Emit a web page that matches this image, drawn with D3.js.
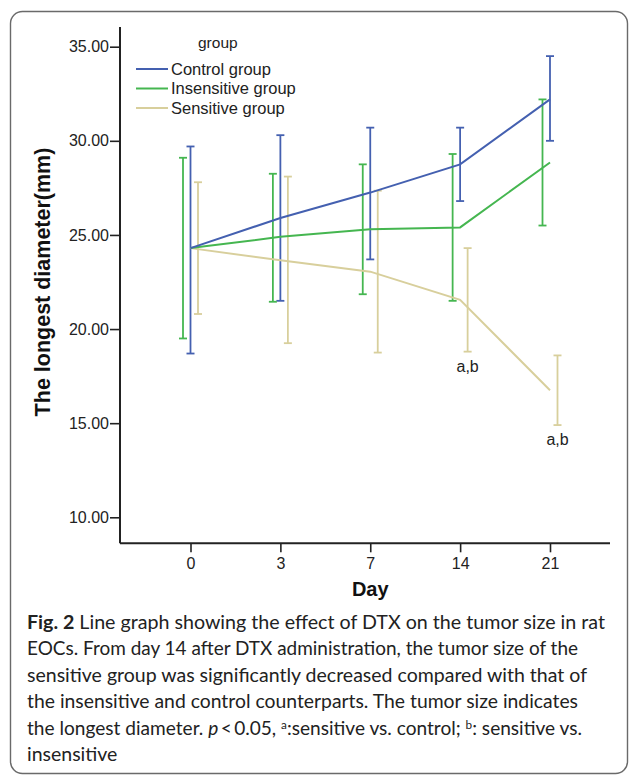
<!DOCTYPE html>
<html>
<head>
<meta charset="utf-8">
<script src="https://cdnjs.cloudflare.com/ajax/libs/d3/7.8.5/d3.min.js"></script>
<style>
  body { margin: 0; background: #fff; }
  svg { display: block; font-family: "Liberation Sans", Arial, sans-serif; }
</style>
</head>
<body>
<div class="figure"></div>
<script>
// values (mean and error bar ends, mm)
var days = ["0", "3", "7", "14", "21"];
var groupNames = ["Control group", "Insensitive group", "Sensitive group"];
var groupColors = ["#4460b0", "#45b650", "#d8cf9c"];

var controlMean = [24.3, 25.9, 27.25, 28.75, 32.2];
var controlLow = [18.7, 21.5, 23.7, 26.8, 30.0];
var controlHigh = [29.7, 30.3, 30.7, 30.7, 34.5];

var insensMean = [24.3, 24.9, 25.3, 25.4, 28.85];
var insensLow = [19.5, 21.45, 21.85, 21.5, 25.5];
var insensHigh = [29.1, 28.25, 28.75, 29.3, 32.2];

var sensMean = [24.3, 23.65, 23.05, 21.55, 16.75];
var sensLow = [20.8, 19.25, 18.75, 18.8, 14.9];
var sensHigh = [27.8, 28.1, 27.35, 24.3, 18.6];

var sigLabels = ["", "", "", "a,b", "a,b"];
var yTicks = [10, 15, 20, 25, 30, 35];

var captionLines = [
  [{t: "Fig. 2", b: true}, {t: "  Line graph showing the effect of DTX on the tumor size in rat"}],
  [{t: "EOCs. From day 14 after DTX administration, the tumor size of the"}],
  [{t: "sensitive group was significantly decreased compared with that of"}],
  [{t: "the insensitive and control counterparts. The tumor size indicates"}],
  [{t: "the longest diameter. "}, {t: "p", i: true}, {t: "\u2009<\u20090.05, "}, {t: "a", sup: true},
   {t: ":sensitive vs. control; "}, {t: "b", sup: true}, {t: ": sensitive vs."}],
  [{t: "insensitive"}]
];
var captionWidths = [578, 551, 560, 551, 555, 0];

var groups = [
  {mean: controlMean, low: controlLow, high: controlHigh, offset: 0},
  {mean: insensMean, low: insensLow, high: insensHigh, offset: -7.5},
  {mean: sensMean, low: sensLow, high: sensHigh, offset: 7.5}
];

var svgWidth = 629;
var svgHeight = 776;

var svg = d3.select(".figure")
  .append("svg")
  .attr("width", svgWidth)
  .attr("height", svgHeight);

svg.append("rect")
  .attr("width", svgWidth)
  .attr("height", svgHeight)
  .attr("fill", "#fff");

// rounded frame round figure + caption
svg.append("rect")
  .attr("x", 10.5)
  .attr("y", 11.5)
  .attr("width", 617)
  .attr("height", 762)
  .attr("rx", 12)
  .attr("fill", "none")
  .attr("stroke", "#6a6a6a")
  .attr("stroke-width", 1.4);

var x = d3.scalePoint()
  .domain(days)
  .range([190.5, 550]);

var y = d3.scaleLinear()
  .domain([10, 35])
  .range([517.3, 46.7]);

var axisLeftX = 120;
var axisBottomY = 543.3;

// y axis
var yAxis = svg.append("g")
  .attr("transform", `translate(${axisLeftX},0)`)
  .call(d3.axisLeft(y).tickValues(yTicks).tickFormat(d3.format(".2f")).tickSize(10).tickPadding(1));
yAxis.select(".domain").remove();
yAxis.selectAll("line").attr("stroke", "#222").attr("stroke-width", 1.6);
yAxis.selectAll("text")
  .attr("fill", "#222")
  .style("font-size", "16px")
  .style("font-family", "Liberation Sans, Arial, sans-serif");

svg.append("line")
  .attr("x1", axisLeftX).attr("x2", axisLeftX)
  .attr("y1", 27).attr("y2", axisBottomY)
  .attr("stroke", "#222")
  .attr("stroke-width", 2);

// x axis
var xAxis = svg.append("g")
  .attr("transform", `translate(0,${axisBottomY})`)
  .call(d3.axisBottom(x).tickSize(9).tickPadding(5));
xAxis.select(".domain").remove();
xAxis.selectAll("line").attr("stroke", "#222").attr("stroke-width", 1.6);
xAxis.selectAll("text")
  .attr("fill", "#222")
  .style("font-size", "16px")
  .style("font-family", "Liberation Sans, Arial, sans-serif");

svg.append("line")
  .attr("x1", axisLeftX).attr("x2", 610)
  .attr("y1", axisBottomY).attr("y2", axisBottomY)
  .attr("stroke", "#222")
  .attr("stroke-width", 2);

// axis titles
svg.append("text")
  .attr("x", x("7"))
  .attr("y", 596)
  .attr("text-anchor", "middle")
  .attr("font-weight", "bold")
  .attr("font-size", 20)
  .attr("fill", "#111")
  .text("Day");

svg.append("text")
  .attr("transform", `translate(50, 282) rotate(-90)`)
  .attr("text-anchor", "middle")
  .attr("font-weight", "bold")
  .attr("font-size", 21.5)
  .attr("fill", "#111")
  .text("The longest diameter(mm)");

// error bars, drawn side by side like SPSS clustered bars
groups.forEach(function(g, gi) {
  var bars = svg.append("g")
    .attr("stroke", groupColors[gi])
    .attr("stroke-width", 1.8)
    .attr("fill", "none");
  days.forEach(function(d, i) {
    var cx = x(d) + g.offset;
    bars.append("line")
      .attr("x1", cx).attr("x2", cx)
      .attr("y1", y(g.high[i])).attr("y2", y(g.low[i]));
    bars.append("line")
      .attr("x1", cx - 4).attr("x2", cx + 4)
      .attr("y1", y(g.high[i])).attr("y2", y(g.high[i]));
    bars.append("line")
      .attr("x1", cx - 4).attr("x2", cx + 4)
      .attr("y1", y(g.low[i])).attr("y2", y(g.low[i]));
  });
});

// mean lines
var line = d3.line()
  .x(function(d, i) { return x(days[i]); })
  .y(function(d) { return y(d); });

[2, 1, 0].forEach(function(gi) {
  svg.append("path")
    .datum(groups[gi].mean)
    .attr("d", line)
    .attr("fill", "none")
    .attr("stroke", groupColors[gi])
    .attr("stroke-width", 2);
});

// significance marks under the sensitive group
svg.append("g")
  .selectAll("text")
  .data(days)
  .enter()
  .append("text")
  .attr("x", function(d) { return x(d) + groups[2].offset; })
  .attr("y", function(d, i) { return y(sensLow[i]) + 20; })
  .attr("text-anchor", "middle")
  .attr("font-size", 16)
  .attr("fill", "#222")
  .text(function(d, i) { return sigLabels[i]; });

// legend
var legend = svg.append("g");
legend.append("text")
  .attr("x", 198)
  .attr("y", 48)
  .attr("font-size", 15.5)
  .attr("fill", "#222")
  .text("group");

groupNames.forEach(function(name, i) {
  var ly = 69 + i * 19.5;
  legend.append("line")
    .attr("x1", 136).attr("x2", 168)
    .attr("y1", ly).attr("y2", ly)
    .attr("stroke", groupColors[i])
    .attr("stroke-width", 2);
  legend.append("text")
    .attr("x", 171)
    .attr("y", ly + 5.5)
    .attr("font-size", 16.5)
    .attr("fill", "#222")
    .text(name);
});

// caption
var caption = svg.append("g")
  .attr("font-family", "Lato, 'Open Sans', sans-serif")
  .attr("fill", "#222");

captionLines.forEach(function(parts, li) {
  var t = caption.append("text")
    .attr("x", 27)
    .attr("y", 629 + li * 26.4)
    .attr("font-size", 19.5);
  var shift = 0;
  parts.forEach(function(p) {
    var s = t.append("tspan").text(p.t);
    if (p.sup) {
      s.attr("dy", -5.5).attr("font-size", 12);
      shift = 5.5;
    } else {
      if (shift) { s.attr("dy", shift); shift = 0; }
      s.attr("font-weight", p.b ? "bold" : null)
        .attr("font-style", p.i ? "italic" : null);
    }
  });
  if (captionWidths[li]) {
    t.attr("textLength", captionWidths[li]).attr("lengthAdjust", "spacingAndGlyphs");
  }
});
</script>
</body>
</html>
